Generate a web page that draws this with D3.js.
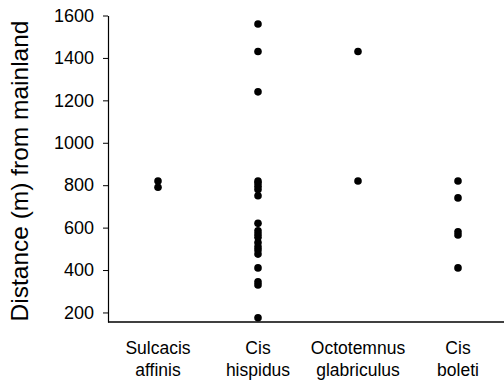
<!DOCTYPE html>
<html>
<head>
<meta charset="utf-8">
<script src="https://cdn.jsdelivr.net/npm/d3@7"></script>
<style>
  body { margin: 0; background: #fff; }
  text { font-family: "Liberation Sans", Arial, sans-serif; fill: #000; }
</style>
</head>
<body>
<script>
const categories = ["Sulcacis affinis", "Cis hispidus", "Octotemnus glabriculus", "Cis boleti"];
const sulcacisAffinis = [820, 790];
const cisHispidus = [1560, 1430, 1240, 820, 810, 795, 780, 750, 620, 585, 570, 555, 530, 510, 495, 475, 410, 345, 330, 175];
const octotemnusGlabriculus = [1430, 820];
const cisBoleti = [820, 740, 580, 565, 410];
const yTicks = [200, 400, 600, 800, 1000, 1200, 1400, 1600];

const seriesValues = [sulcacisAffinis, cisHispidus, octotemnusGlabriculus, cisBoleti];

const width = 504, height = 382;
const margin = { top: 15.5, right: 0, bottom: 60, left: 108 };

const svg = d3.select("body").append("svg")
    .attr("width", width)
    .attr("height", height);

const x = d3.scaleBand()
    .domain(categories)
    .range([margin.left, margin.left + 400]);

const y = d3.scaleLinear()
    .domain([155, 1600])
    .range([322, margin.top]);

// y axis
const yAxis = svg.append("g")
    .attr("transform", "translate(" + margin.left + ",0)")
    .call(d3.axisLeft(y).tickValues(yTicks).tickFormat(d3.format("d")).tickSize(5).tickSizeOuter(0));
yAxis.select(".domain").attr("stroke", "#000").attr("stroke-width", 1.2);
yAxis.selectAll(".tick line").attr("stroke", "#000");
yAxis.selectAll(".tick text")
    .attr("x", -14)
    .attr("font-size", "18px");

// x axis line
svg.append("line")
    .attr("x1", margin.left)
    .attr("x2", width)
    .attr("y1", y(155))
    .attr("y2", y(155))
    .attr("stroke", "#000")
    .attr("stroke-width", 1.5);

// category labels, two lines each
const catLabels = svg.selectAll(".cat")
    .data(categories)
    .enter().append("text")
    .attr("class", "cat")
    .attr("text-anchor", "middle")
    .attr("font-size", "17.5px")
    .attr("x", d => x(d) + x.bandwidth() / 2)
    .attr("y", 354);
catLabels.each(function(d) {
    const words = d.split(" ");
    const t = d3.select(this);
    words.forEach((w, i) => {
        t.append("tspan")
            .attr("x", x(d) + x.bandwidth() / 2)
            .attr("dy", i === 0 ? 0 : 22)
            .text(w);
    });
});

// points
seriesValues.forEach((vals, i) => {
    svg.selectAll(".pt-" + i)
        .data(vals)
        .enter().append("circle")
        .attr("class", "pt-" + i)
        .attr("cx", x(categories[i]) + x.bandwidth() / 2)
        .attr("cy", d => y(d))
        .attr("r", 3.8)
        .attr("fill", "#000");
});

// y axis title
svg.append("text")
    .attr("transform", "translate(28," + 171 + ") rotate(-90)")
    .attr("text-anchor", "middle")
    .attr("font-size", "24.5px")
    .text("Distance (m) from mainland");
</script>
</body>
</html>
